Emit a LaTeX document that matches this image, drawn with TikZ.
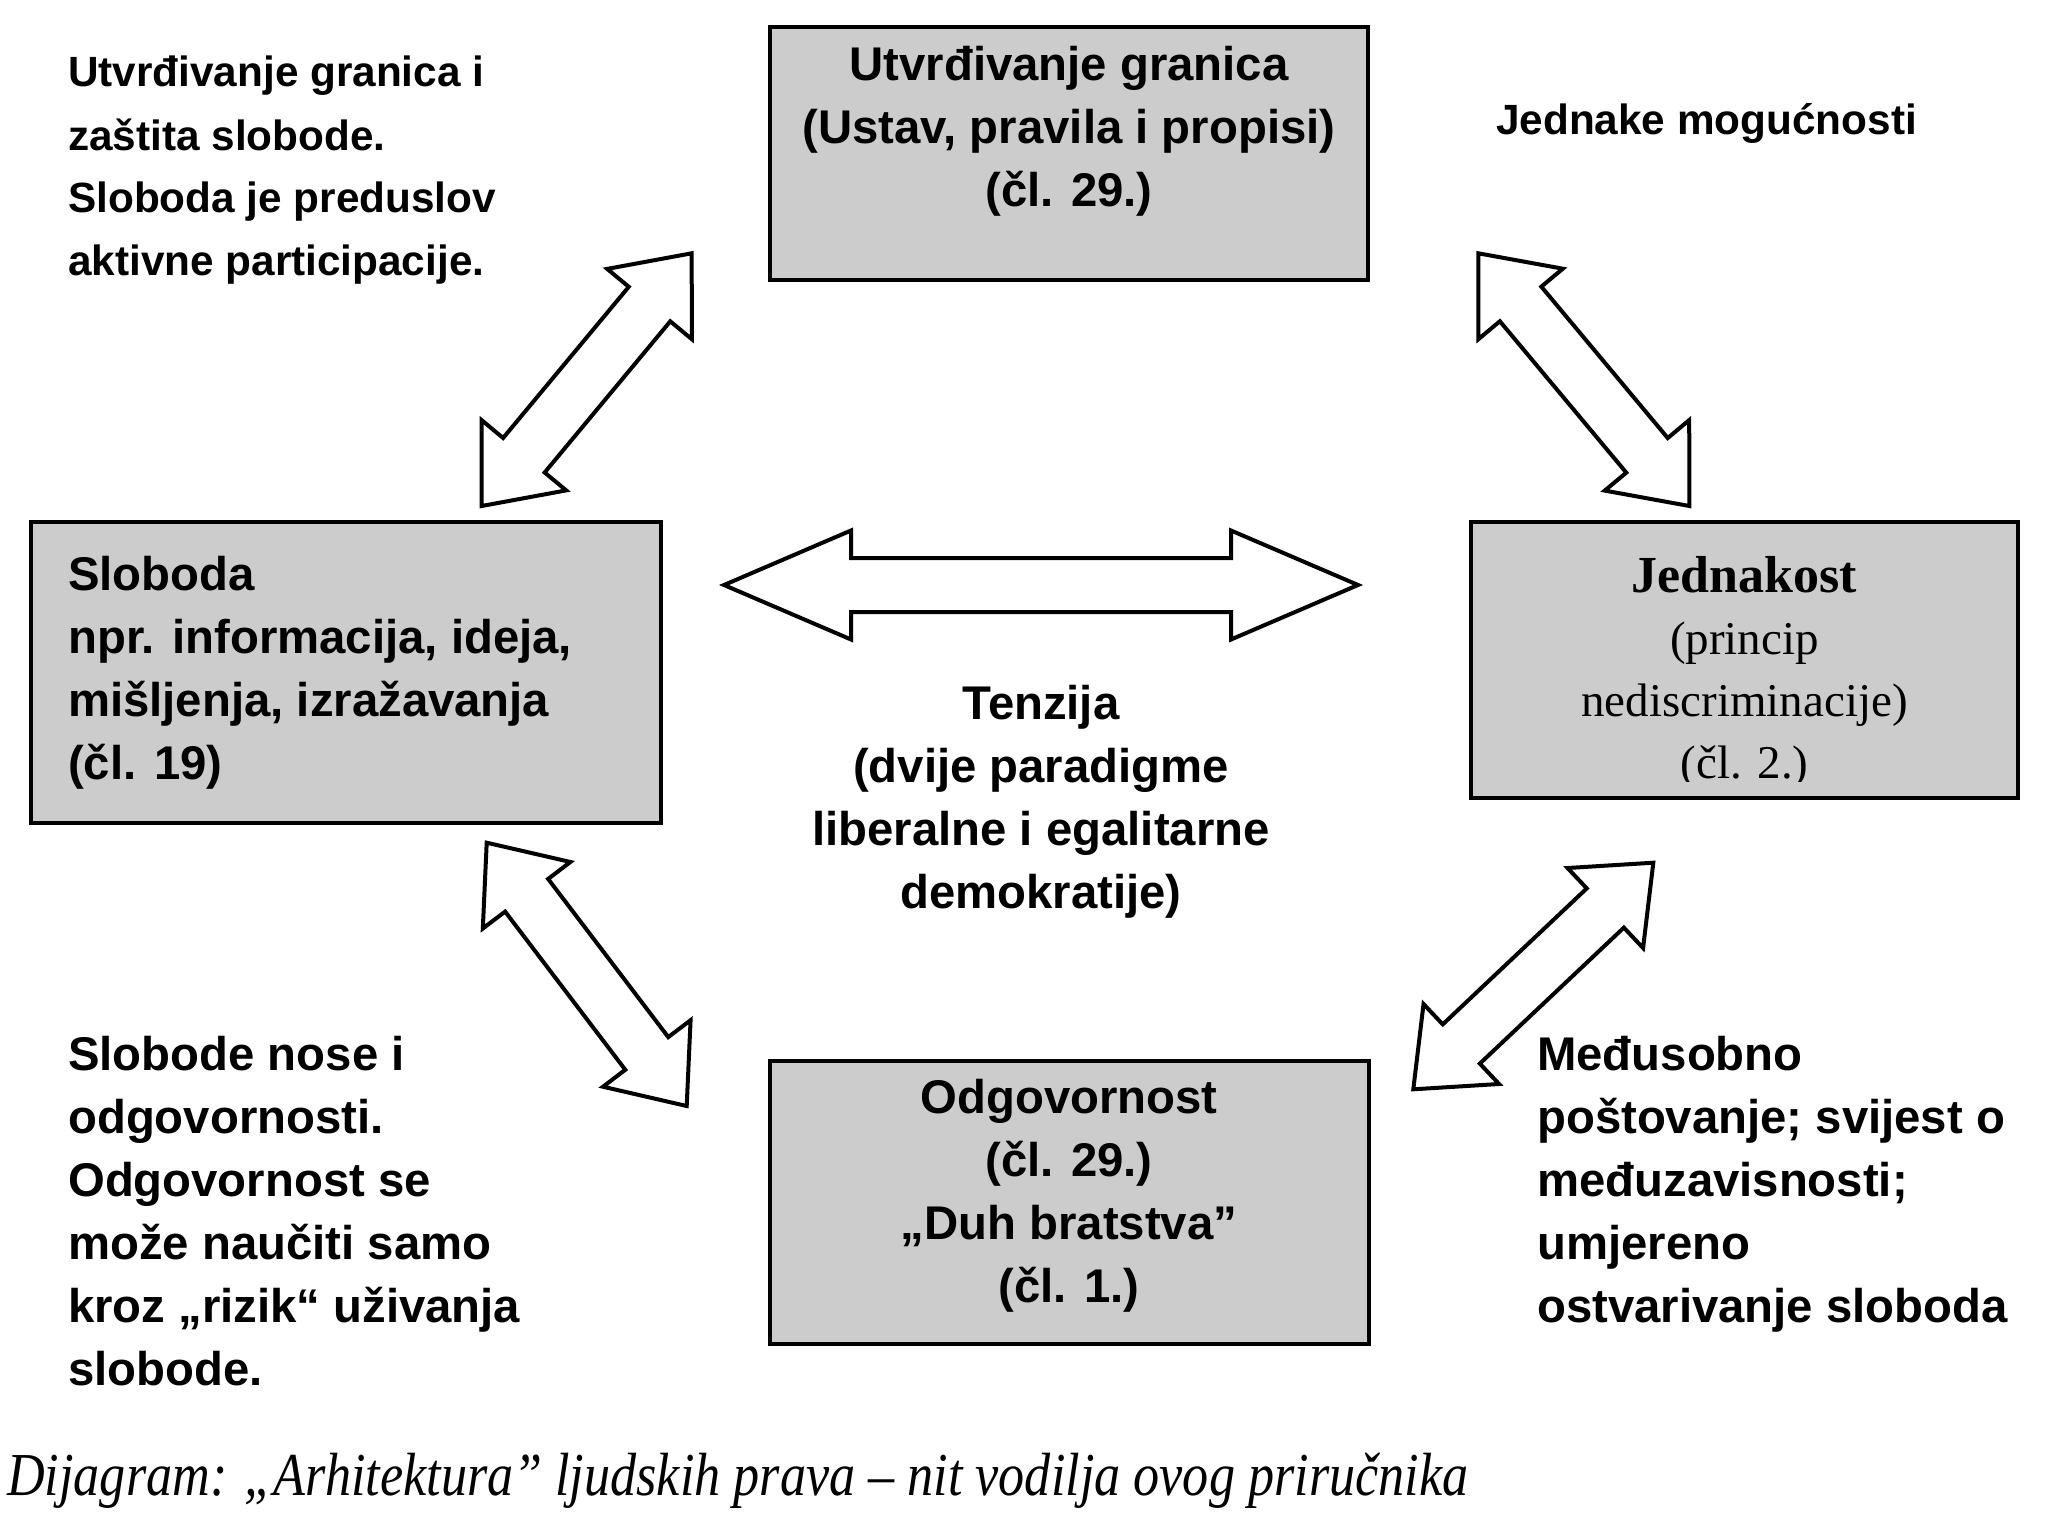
\documentclass[tikz,border=0pt]{standalone}
\usepackage{fontspec}
\usepackage{graphicx}
\usetikzlibrary{calc}
\setmainfont{Liberation Sans}
\newfontfamily\serifface{Liberation Serif}
\definecolor{boxgray}{RGB}{204,204,204}
\tikzset{
  box/.style={draw=black, fill=boxgray, line width=3.5pt, inner sep=0pt},
  arrowline/.style={draw=black, fill=white, line width=4pt, line join=miter},
  smalltxt/.style={inner sep=0pt, align=left, font=\bfseries\fontsize{42.3}{63}\selectfont},
  lefttxt/.style={inner sep=0pt, align=left, font=\bfseries\fontsize{47.3}{63}\selectfont},
  centertxt/.style={inner sep=0pt, align=center, font=\bfseries\fontsize{47.3}{63}\selectfont},
  seriftxt/.style={inner sep=0pt, align=center, font=\serifface\fontsize{47}{62}\selectfont},
}
\newcommand\dblarrow[5]{%
  \coordinate (#1-h) at ($(#1)!#3!(#2)$);
  \coordinate (#2-h) at ($(#2)!#3!(#1)$);
  \draw[arrowline] (#1)
    -- ($(#1-h)!#4!90:(#2)$) -- ($(#1-h)!#5!90:(#2)$)
    -- ($(#2-h)!#5!-90:(#1)$) -- ($(#2-h)!#4!-90:(#1)$)
    -- (#2)
    -- ($(#2-h)!#4!90:(#1)$) -- ($(#2-h)!#5!90:(#1)$)
    -- ($(#1-h)!#5!-90:(#2)$) -- ($(#1-h)!#4!-90:(#2)$)
    -- cycle;}
\begin{document}
\begin{tikzpicture}[x=1pt, y=-1pt]
\useasboundingbox[fill=white] (0,0) rectangle (2056,1525);

% boxes
\node[box, minimum width=598pt, minimum height=253pt] (ustav) at (1069,153.5) {};
\node[box, minimum width=630pt, minimum height=301pt] (sloboda) at (346,672.5) {};
\node[box, minimum width=547pt, minimum height=276pt] (jednakost) at (1744.5,660) {};
\node[box, minimum width=599pt, minimum height=283pt] (odgovornost) at (1069.5,1202.5) {};

% box texts (anchor base = baseline of the last line)
\node[centertxt, anchor=base] (ustavtxt) at (1069,207)
  {Utvrđivanje granica\\(Ustav, pravila i propisi)\\(čl. 29.)};
\node[lefttxt, anchor=base west] (slobodatxt) at (68,779)
  {Sloboda\\npr. informacija, ideja,\\mišljenja, izražavanja\\(čl. 19)};
\begin{scope}
  \clip (1471,522) rectangle (2018,781);
  \node[seriftxt, anchor=base] (jednakosttxt) at (1744.5,778)
    {{\bfseries\fontsize{52}{62}\selectfont Jednakost}\\(princip\\nediscriminacije)\\(čl. 2.)};
\end{scope}
\node[centertxt, anchor=base] (odgovornosttxt) at (1069,1302)
  {Odgovornost\\(čl. 29.)\\„Duh bratstva”\\(čl. 1.)};

% free texts
\node[smalltxt, anchor=base west] (granicetxt) at (68,276)
  {Utvrđivanje granica i\\zaštita slobode.\\Sloboda je preduslov\\aktivne participacije.};
\node[smalltxt, anchor=base west] (mogucnosti) at (1496,135) {Jednake mogućnosti};
\node[centertxt, anchor=base] (tenzija) at (1041,908)
  {Tenzija\\(dvije paradigme\\liberalne i egalitarne\\demokratije)};
\node[lefttxt, anchor=base west] (slobodenose) at (68,1385)
  {Slobode nose i\\odgovornosti.\\Odgovornost se\\može naučiti samo\\kroz „rizik“ uživanja\\slobode.};
\node[lefttxt, anchor=base west] (postovanje) at (1537,1322)
  {Međusobno\\poštovanje; svijest o\\međuzavisnosti;\\umjereno\\ostvarivanje sloboda};

% caption
\node[anchor=base west, inner sep=0pt] (caption) at (7,1495)
  {\resizebox{1461pt}{\height}{\serifface\itshape\fontsize{61}{61}\selectfont Dijagram: „Arhitektura” ljudskih prava – nit vodilja ovog priručnika}};

% arrow tips
\coordinate (tlA) at (481.7,506);   \coordinate (tlB) at (691.7,253.3);
\coordinate (trA) at (1478.3,253.3); \coordinate (trB) at (1689.3,506);
\coordinate (blA) at (486.7,842.7); \coordinate (blB) at (686.7,1106);
\coordinate (brA) at (1653.3,862.7); \coordinate (brB) at (1413.3,1089.3);
\coordinate (hA) at (724,585);      \coordinate (hB) at (1358,585);

\dblarrow{tlA}{tlB}{66pt}{55pt}{27pt}
\dblarrow{trA}{trB}{66pt}{55pt}{27pt}
\dblarrow{blA}{blB}{66pt}{55pt}{27pt}
\dblarrow{brA}{brB}{66pt}{55pt}{27pt}
\dblarrow{hA}{hB}{127pt}{54.5pt}{27pt}
\end{tikzpicture}
\end{document}
